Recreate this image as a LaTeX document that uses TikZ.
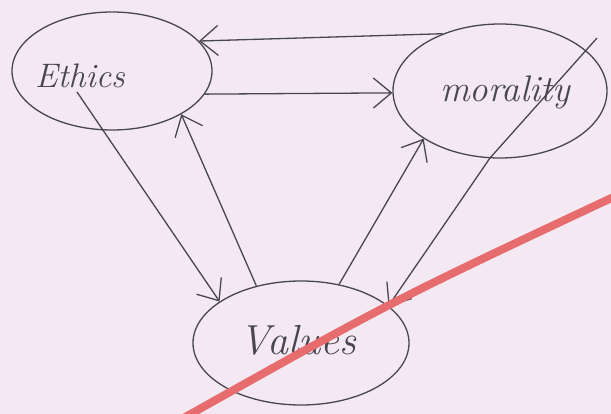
\documentclass[tikz,border=0pt]{standalone}
\usetikzlibrary{arrows.meta,shapes.geometric}
\definecolor{paper}{RGB}{244,233,243}
\definecolor{ink}{RGB}{72,70,78}
\definecolor{marker}{RGB}{230,108,110}
\tikzset{
  bubble/.style={ellipse,draw=ink,line width=1.3pt,inner sep=0pt},
  word/.style={text=ink,font=\itshape,inner sep=0pt},
  link/.style={draw=ink,line width=1.3pt,
    -{Straight Barb[length=18pt,width=30pt,line width=1.3pt]}},
}
\begin{document}
\begin{tikzpicture}[x=1pt,y=-1pt]
  % page and background
  \useasboundingbox (0,0) rectangle (611,414);
  \fill[paper] (0,0) rectangle (611,414);
  \clip (0,0) rectangle (611,414);

  % the three concepts
  \node[bubble,minimum width=200pt,minimum height=118pt] (E) at (112,71) {};
  \node[bubble,minimum width=214pt,minimum height=134pt] (M) at (500,91) {};
  \node[bubble,minimum width=216pt,minimum height=124pt] (V) at (301,343) {};

  \node[word,font=\itshape\fontsize{34}{36}\selectfont] (Et) at (80,76) {Ethics};
  \node[word,font=\itshape\fontsize{37}{39}\selectfont] (Mt) at (505,92) {morality};
  \node[word,font=\itshape\fontsize{42}{44}\selectfont] (Vt) at (298,340) {Values};

  % free ends of the two strokes that start inside the words
  \coordinate (ethStart) at (77,92);
  \coordinate (morStart) at (597,38);
  \coordinate (morBend) at (490,158);

  % relations between the concepts
  \draw[link] (M.135) -- (E.19);
  \draw[link] (E.-14) -- (M.181);
  \draw[link] (ethStart) -- (V.153);
  \draw[link] (V.128) -- (E.-32);
  \draw[link] (V.57) -- (M.212);
  \draw[link] (morStart) -- (morBend) -- (V.23);

  % red marker stroke across the sheet
  \draw[marker,line width=8pt,line cap=round]
    (180,420) .. controls (394,300) .. (620,194);
\end{tikzpicture}
\end{document}
